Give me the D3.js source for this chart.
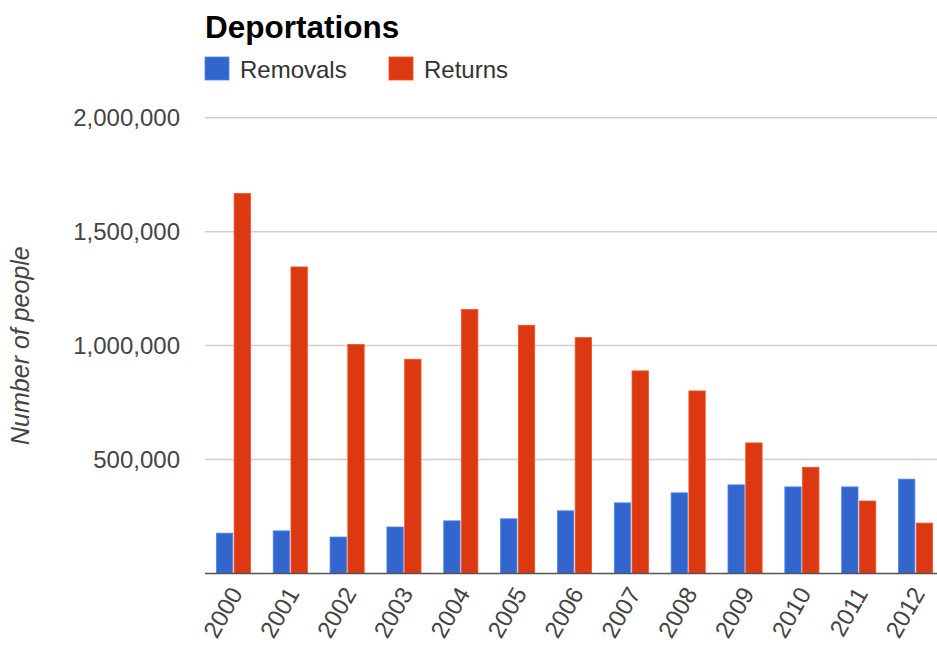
<!DOCTYPE html>
<html>
<head>
<meta charset="utf-8">
<script src="https://cdn.jsdelivr.net/npm/d3@7"></script>
<style>
	body { margin: 0; background: #fff; }
	svg { display: block; font-family: Arial, "Liberation Sans", sans-serif; }
</style>
</head>
<body>
<svg id="chart" width="937" height="646"></svg>
<script>
const years = ['2000', '2001', '2002', '2003', '2004', '2005', '2006', '2007', '2008', '2009', '2010', '2011', '2012']
const removals = [177000, 187000, 160000, 204000, 231000, 240000, 275000, 310000, 354000, 389000, 380000, 380000, 414000]
const returns = [1667000, 1345000, 1005000, 940000, 1158000, 1089000, 1035000, 889000, 801000, 573000, 466000, 318000, 221000]
const seriesNames = ['Removals', 'Returns']
const seriesColors = ['#3366cc', '#dc3912']
const yTicks = [500000, 1000000, 1500000, 2000000]

const W = 937
const plotLeft = 205
const plotRight = 944
const plotTop = 117.7
const plotBottom = 573.5

const svg = d3.select('#chart')

const x = d3.scaleBand()
	.domain(years)
	.range([plotLeft, plotRight])
	.paddingInner(0.4)
	.paddingOuter(0.2)

const xSub = d3.scaleBand()
	.domain(seriesNames)
	.range([0, x.bandwidth()])
	.paddingInner(0.08)

const y = d3.scaleLinear()
	.domain([0, 2000000])
	.range([plotBottom, plotTop])

const color = d3.scaleOrdinal().domain(seriesNames).range(seriesColors)

// gridlines
svg.append('g')
	.selectAll('line')
	.data(yTicks)
	.join('line')
		.attr('x1', plotLeft)
		.attr('x2', W)
		.attr('y1', d => y(d))
		.attr('y2', d => y(d))
		.attr('stroke', '#d0d0d0')
		.attr('stroke-width', 1.5)

// y axis labels
const yAxis = d3.axisLeft(y)
	.tickValues(yTicks)
	.tickFormat(d3.format(','))
	.tickSize(0)
	.tickPadding(0)

svg.append('g')
	.attr('transform', 'translate(180,0)')
	.call(yAxis)
	.call(g => g.select('.domain').remove())
	.call(g => g.selectAll('text')
		.attr('fill', '#444')
		.attr('font-size', 24)
		.attr('font-family', 'Arial, "Liberation Sans", sans-serif'))

// bars
const rows = years.map((yr, i) => ({ year: yr, values: [removals[i], returns[i]] }))

const groups = svg.append('g')
	.selectAll('g')
	.data(rows)
	.join('g')
		.attr('transform', d => `translate(${x(d.year)},0)`)

groups.selectAll('rect')
	.data(d => d.values.map((v, i) => ({ key: seriesNames[i], value: v })))
	.join('rect')
		.attr('x', d => xSub(d.key))
		.attr('width', xSub.bandwidth())
		.attr('y', d => y(d.value))
		.attr('height', d => y(0) - y(d.value))
		.attr('fill', d => color(d.key))
		.attr('stroke', d => d3.color(color(d.key)).brighter(0.8))
		.attr('stroke-width', 0.8)

// baseline
svg.append('line')
	.attr('x1', plotLeft)
	.attr('x2', W)
	.attr('y1', plotBottom)
	.attr('y2', plotBottom)
	.attr('stroke', '#555')
	.attr('stroke-width', 1.5)

// x axis labels
const xAxis = d3.axisBottom(x).tickSize(0).tickPadding(0)

svg.append('g')
	.attr('transform', `translate(0,${plotBottom})`)
	.call(xAxis)
	.call(g => g.select('.domain').remove())
	.call(g => g.selectAll('text')
		.attr('fill', '#444')
		.attr('font-size', 24)
		.attr('font-family', 'Arial, "Liberation Sans", sans-serif')
		.attr('text-anchor', 'end')
		.attr('dy', 0)
		.attr('y', 0)
		.attr('transform', 'translate(10,20) rotate(-60)'))

// y title
svg.append('text')
	.attr('transform', `translate(29,${(plotTop + plotBottom) / 2}) rotate(-90)`)
	.attr('text-anchor', 'middle')
	.attr('font-style', 'italic')
	.attr('font-size', 25)
	.attr('fill', '#444')
	.text('Number of people')

// title
svg.append('text')
	.attr('x', 205)
	.attr('y', 37.5)
	.attr('font-weight', 'bold')
	.attr('font-size', 31.5)
	.attr('fill', '#000')
	.text('Deportations')

// legend
const legendX = [205, 389]
const legend = svg.append('g')
	.selectAll('g')
	.data(seriesNames)
	.join('g')
		.attr('transform', (d, i) => `translate(${legendX[i]},57)`)

legend.append('rect')
	.attr('width', 24)
	.attr('height', 23)
	.attr('fill', d => color(d))
	.attr('stroke', d => d3.color(color(d)).brighter(0.8))
	.attr('stroke-width', 0.8)

legend.append('text')
	.attr('x', 35)
	.attr('y', 20.5)
	.attr('font-size', 24)
	.attr('fill', '#333')
	.text(d => d)
</script>
</body>
</html>
